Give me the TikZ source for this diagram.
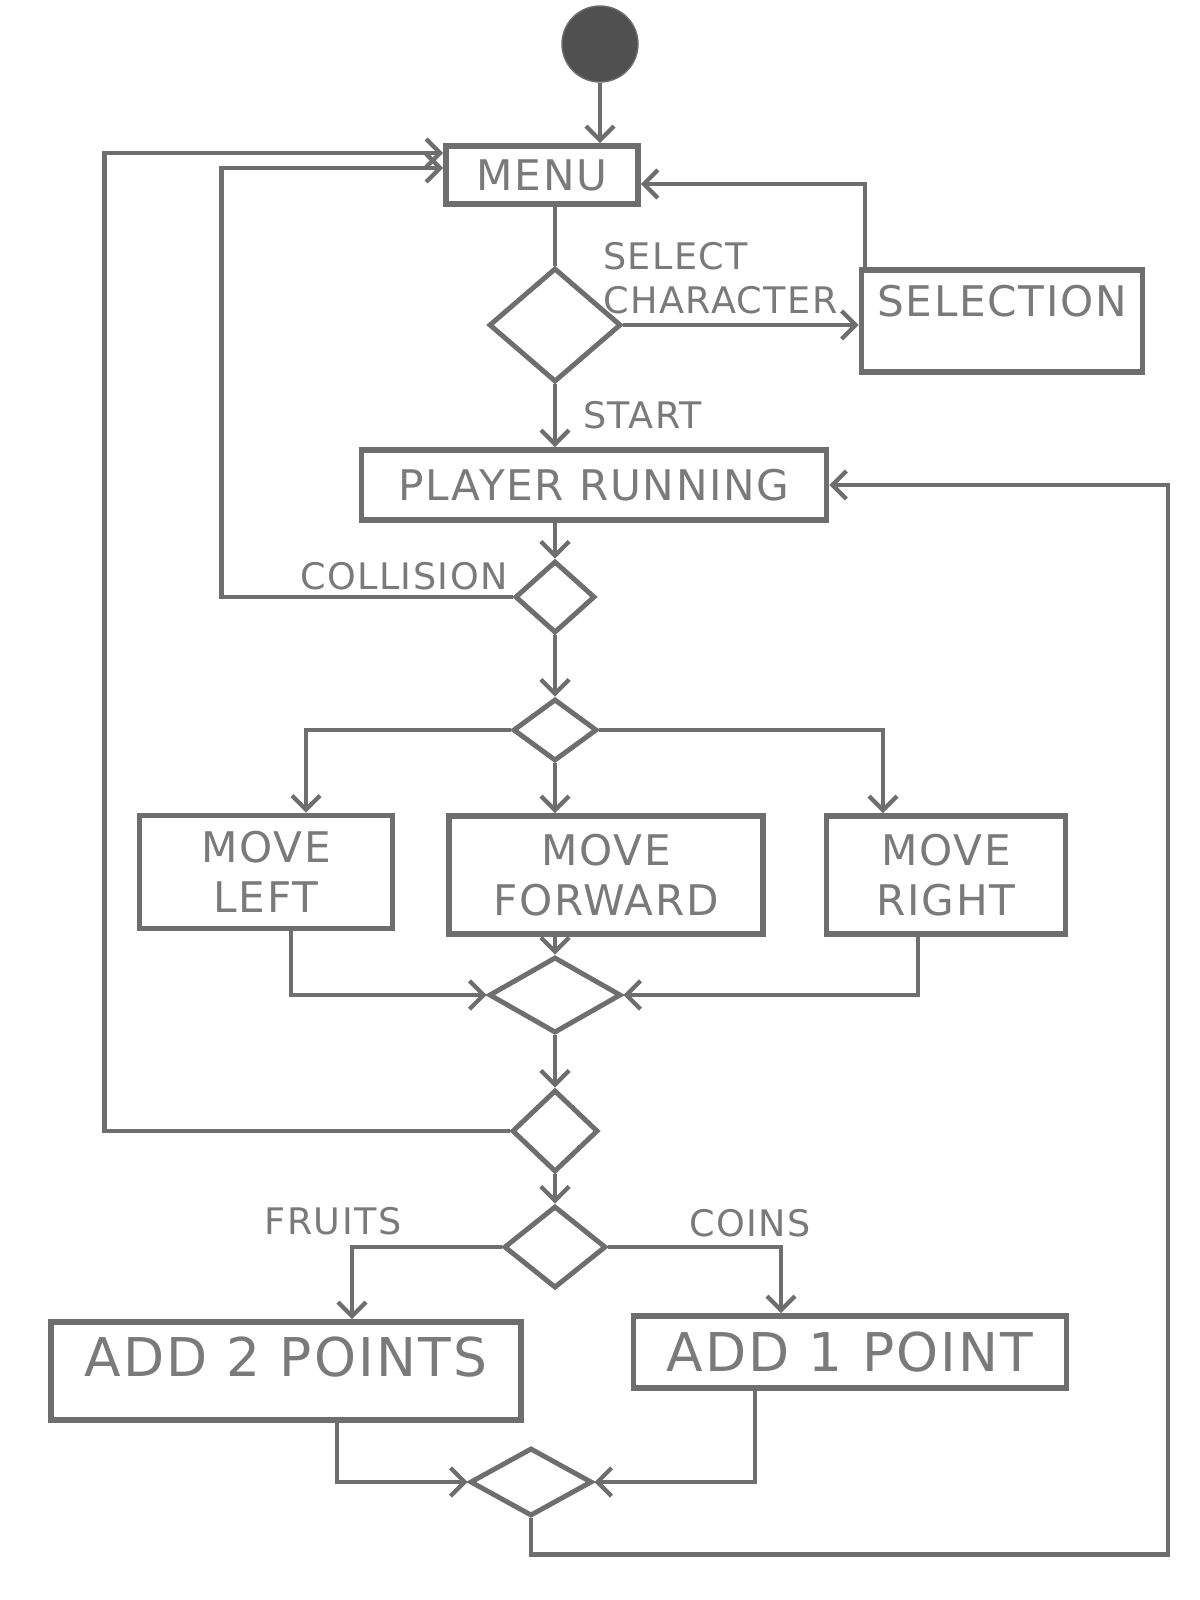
\documentclass[tikz,border=0pt]{standalone}
\usepackage{fontspec}
\setmainfont{DejaVu Sans}[LetterSpace=4]
\usetikzlibrary{arrows.meta,shapes.geometric,calc}
\definecolor{pencil}{HTML}{6E6E6E}
\definecolor{pencildark}{HTML}{505050}
\definecolor{penciltext}{HTML}{7A7A7A}
\begin{document}
\begin{tikzpicture}[x=0.025cm,y=-0.025cm,
  box/.style={draw=pencil, line width=4pt, rectangle, text=penciltext,
    font=\fontsize{30}{36}\selectfont, align=center, inner sep=0pt},
  bigbox/.style={box, font=\fontsize{38}{44}\selectfont},
  dec/.style={draw=pencil, line width=3.5pt, diamond, inner sep=0pt},
  conn/.style={draw=pencil, line width=3pt},
  arr/.style={conn, -{Straight Barb[length=10pt,width=20pt]}},
  lbl/.style={text=penciltext, font=\fontsize{26}{31}\selectfont, align=left, inner sep=0pt},
]
\fill[white] (0,0) rectangle (1200,1600);
\useasboundingbox (0,0) rectangle (1200,1600);

% nodes
\node[circle, fill=pencildark, draw=pencil, line width=1pt, minimum size=1.9cm, inner sep=0pt] (start) at (600,44) {};
\node[box, minimum width=4.8cm, minimum height=1.45cm] (menu) at (542,175) {MENU};
\node[dec, minimum width=3.3cm, minimum height=2.85cm] (d1) at (555,325) {};
\node[box, minimum width=7.025cm, minimum height=2.55cm, text depth=28pt] (sel) at (1002,321) {SELECTION};
\node[box, minimum width=11.625cm, minimum height=1.75cm] (player) at (594,485) {PLAYER RUNNING};
\node[dec, minimum width=2cm, minimum height=1.8cm] (d2) at (555,597) {};
\node[dec, minimum width=2.1cm, minimum height=1.55cm] (d3) at (555,730) {};
\node[box, minimum width=6.325cm, minimum height=2.825cm] (left) at (266,872) {MOVE\\LEFT};
\node[box, minimum width=7.85cm, minimum height=2.95cm] (fwd) at (606,875) {MOVE\\FORWARD};
\node[box, minimum width=5.975cm, minimum height=2.95cm] (right) at (946,875) {MOVE\\RIGHT};
\node[dec, minimum width=3.3cm, minimum height=1.9cm] (d4) at (555,995) {};
\node[dec, minimum width=2.15cm, minimum height=2.05cm] (d5) at (555,1131) {};
\node[dec, minimum width=2.55cm, minimum height=2.05cm] (d6) at (555,1247) {};
\node[bigbox, minimum width=11.75cm, minimum height=2.45cm, text depth=20pt] (add2) at (286,1371) {ADD 2 POINTS};
\node[bigbox, minimum width=10.825cm, minimum height=1.8cm] (add1) at (850,1352) {ADD 1 POINT};
\node[dec, minimum width=3.05cm, minimum height=1.7cm] (d7) at (531,1482) {};

% labels
\node[lbl, anchor=south west] (lsel) at (603,314) {SELECT\\CHARACTER};
\node[lbl, anchor=west] (lstart) at (583,415) {START};
\node[lbl, anchor=south east] (lcoll) at (508,590) {COLLISION};
\node[lbl, anchor=south] (lfruits) at (333,1235) {FRUITS};
\node[lbl, anchor=south] (lcoins) at (750,1237) {COINS};

% connectors
\draw[arr] (start.south) -- (start.south |- menu.north);
\draw[conn] (d1.north |- menu.south) -- (d1.north);
\draw[arr] (d1.east) -- (d1.east -| sel.west);
\draw[arr] ($(sel.north west)+(6,0)$) |- ($(menu.east)+(0,9)$);
\draw[arr] (d1.south) -- (d1.south |- player.north);
\draw[arr] (d2.north |- player.south) -- (d2.north);
\draw[arr] (d2.west) -- ++(-291,0) |- ($(menu.west)+(0,-7)$);
\draw[arr] (d2.south) -- (d3.north);
\draw[arr] (d3.west) -| ($(left.north)+(40,0)$);
\draw[arr] (d3.south) -- (d3.south |- fwd.north);
\draw[arr] (d3.east) -| ($(right.north)+(-63,0)$);
\draw[arr] ($(left.south)+(25,0)$) |- (d4.west);
\draw[arr] (d4.north |- fwd.south) -- (d4.north);
\draw[arr] ($(right.south)+(-28,0)$) |- (d4.east);
\draw[arr] (d4.south) -- (d5.north);
\draw[arr] (d5.west) -- ++(-405,0) |- ($(menu.west)+(0,-22)$);
\draw[arr] (d5.south) -- (d6.north);
\draw[arr] (d6.west) -| ($(add2.north)+(66,0)$);
\draw[arr] (d6.east) -| ($(add1.north)+(-69,0)$);
\draw[arr] ($(add2.south)+(51,0)$) |- (d7.west);
\draw[arr] ($(add1.south)+(-95,0)$) |- (d7.east);
\draw[arr] (d7.south) -- ++(0,36) -- ++(637,0) |- (player.east);
\end{tikzpicture}
\end{document}
